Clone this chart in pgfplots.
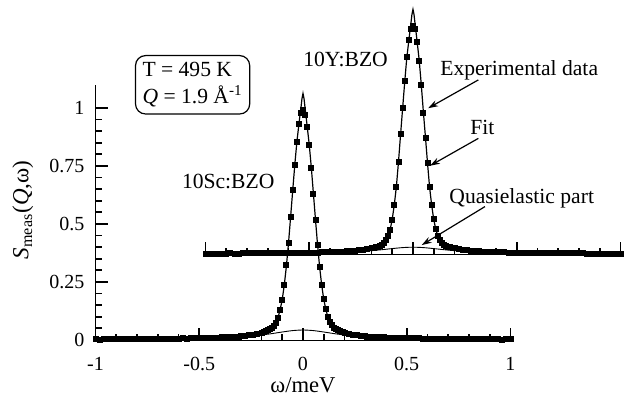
\documentclass[border=0pt]{standalone}
\usepackage{fontspec}
\setmainfont{Liberation Serif}
\usepackage{pgfplots}
\pgfplotsset{compat=1.18}
\usepackage{pgfplotstable}
\usetikzlibrary{arrows.meta}
\newcommand\annfont{\fontsize{10.8}{13.3}\selectfont}

% 10Sc:BZO measured data
\pgfplotstableread{
x y
-1.00 0.003
-0.98 0.002
-0.96 0.004
-0.94 0.003
-0.92 0.003
-0.90 0.004
-0.88 0.003
-0.86 0.004
-0.84 0.005
-0.82 0.004
-0.80 0.004
-0.78 0.005
-0.76 0.004
-0.74 0.005
-0.72 0.005
-0.70 0.005
-0.68 0.006
-0.66 0.005
-0.64 0.006
-0.62 0.006
-0.60 0.006
-0.58 0.007
-0.56 0.006
-0.54 0.007
-0.52 0.008
-0.50 0.008
-0.48 0.008
-0.46 0.009
-0.44 0.010
-0.42 0.010
-0.40 0.011
-0.38 0.012
-0.36 0.013
-0.34 0.014
-0.32 0.015
-0.30 0.017
-0.28 0.019
-0.26 0.021
-0.24 0.024
-0.22 0.028
-0.20 0.032
-0.19 0.035
-0.18 0.039
-0.17 0.042
-0.16 0.047
-0.15 0.054
-0.14 0.062
-0.13 0.075
-0.12 0.097
-0.11 0.129
-0.10 0.172
-0.09 0.236
-0.08 0.322
-0.07 0.418
-0.06 0.531
-0.05 0.645
-0.04 0.755
-0.03 0.855
-0.02 0.930
-0.01 0.978
0.00 0.990
0.01 0.970
0.02 0.918
0.03 0.840
0.04 0.742
0.05 0.630
0.06 0.519
0.07 0.411
0.08 0.314
0.09 0.237
0.10 0.178
0.11 0.133
0.12 0.099
0.13 0.078
0.14 0.063
0.15 0.053
0.16 0.046
0.17 0.042
0.18 0.038
0.19 0.035
0.20 0.032
0.22 0.027
0.24 0.024
0.26 0.021
0.28 0.019
0.30 0.017
0.32 0.015
0.34 0.014
0.36 0.013
0.38 0.012
0.40 0.011
0.42 0.010
0.44 0.010
0.46 0.009
0.48 0.008
0.50 0.008
0.52 0.007
0.54 0.007
0.56 0.007
0.58 0.006
0.60 0.006
0.62 0.006
0.64 0.005
0.66 0.006
0.68 0.005
0.70 0.005
0.72 0.004
0.74 0.005
0.76 0.004
0.78 0.004
0.80 0.004
0.82 0.004
0.84 0.003
0.86 0.004
0.88 0.003
0.90 0.003
0.92 0.003
0.94 0.003
0.96 0.002
0.98 0.003
1.00 0.003
}\scdata

\pgfplotstableread{
x y
-1.00 0.003
-0.90 0.0035
-0.80 0.004
-0.70 0.005
-0.60 0.006
-0.50 0.008
-0.45 0.0092
-0.40 0.011
-0.35 0.0135
-0.30 0.017
-0.26 0.021
-0.22 0.0275
-0.20 0.032
-0.18 0.038
-0.16 0.0465
-0.15 0.053
-0.14 0.062
-0.13 0.076
-0.12 0.098
-0.11 0.131
-0.10 0.175
-0.09 0.238
-0.08 0.319
-0.07 0.416
-0.06 0.527
-0.05 0.640
-0.04 0.750
-0.03 0.850
-0.02 0.928
-0.015 0.965
-0.01 1.000
-0.005 1.040
0.000 1.063
0.005 1.040
0.01 1.000
0.015 0.962
0.02 0.922
0.03 0.843
0.04 0.744
0.05 0.633
0.06 0.521
0.07 0.412
0.08 0.316
0.09 0.237
0.10 0.176
0.11 0.132
0.12 0.099
0.13 0.077
0.14 0.0625
0.15 0.053
0.16 0.0465
0.18 0.038
0.20 0.032
0.22 0.0275
0.26 0.021
0.30 0.017
0.35 0.0135
0.40 0.011
0.45 0.0092
0.50 0.008
0.60 0.006
0.70 0.005
0.80 0.004
0.90 0.0035
1.00 0.003
}\scfit

\pgfplotstableread{
x y
-1.0 0.0017
-0.9 0.0020
-0.8 0.0025
-0.7 0.0032
-0.6 0.0043
-0.5 0.0059
-0.4 0.0086
-0.35 0.0106
-0.3 0.0132
-0.25 0.0168
-0.2 0.0215
-0.15 0.0275
-0.1 0.0344
-0.05 0.0405
0 0.043
0.05 0.0405
0.1 0.0344
0.15 0.0275
0.2 0.0215
0.25 0.0168
0.3 0.0132
0.35 0.0106
0.4 0.0086
0.5 0.0059
0.6 0.0043
0.7 0.0032
0.8 0.0025
0.9 0.0020
1.0 0.0017
}\scquasi

% 10Y:BZO measured data (relative to its own baseline)
\pgfplotstableread{
x y
-1.00 0.0025
-0.98 0.003
-0.96 0.002
-0.94 0.003
-0.92 0.003
-0.90 0.003
-0.88 0.004
-0.86 0.003
-0.84 0.003
-0.82 0.004
-0.80 0.0035
-0.78 0.004
-0.76 0.004
-0.74 0.004
-0.72 0.005
-0.70 0.004
-0.68 0.005
-0.66 0.005
-0.64 0.005
-0.62 0.005
-0.60 0.005
-0.58 0.006
-0.56 0.005
-0.54 0.006
-0.52 0.006
-0.50 0.0065
-0.48 0.007
-0.46 0.007
-0.44 0.008
-0.42 0.008
-0.40 0.009
-0.38 0.0095
-0.36 0.010
-0.34 0.011
-0.32 0.012
-0.30 0.013
-0.28 0.015
-0.26 0.017
-0.24 0.019
-0.22 0.022
-0.20 0.026
-0.19 0.028
-0.18 0.030
-0.17 0.033
-0.16 0.037
-0.15 0.042
-0.14 0.049
-0.13 0.061
-0.12 0.077
-0.11 0.104
-0.10 0.148
-0.09 0.214
-0.08 0.292
-0.07 0.398
-0.06 0.518
-0.05 0.632
-0.04 0.745
-0.03 0.850
-0.02 0.922
-0.01 0.969
0.00 0.985
0.01 0.972
0.02 0.916
0.03 0.834
0.04 0.728
0.05 0.610
0.06 0.503
0.07 0.392
0.08 0.288
0.09 0.212
0.10 0.150
0.11 0.107
0.12 0.078
0.13 0.060
0.14 0.049
0.15 0.042
0.16 0.037
0.17 0.033
0.18 0.030
0.19 0.028
0.20 0.026
0.22 0.022
0.24 0.019
0.26 0.017
0.28 0.015
0.30 0.013
0.32 0.012
0.34 0.011
0.36 0.010
0.38 0.0095
0.40 0.009
0.42 0.008
0.44 0.008
0.46 0.007
0.48 0.007
0.50 0.0065
0.52 0.006
0.54 0.006
0.56 0.0055
0.58 0.005
0.60 0.005
0.62 0.005
0.64 0.0045
0.66 0.0045
0.68 0.004
0.70 0.004
0.72 0.004
0.74 0.004
0.76 0.0035
0.78 0.0035
0.80 0.0035
0.82 0.0035
0.84 0.003
0.86 0.003
0.88 0.003
0.90 0.003
0.92 0.003
0.94 0.0025
0.96 0.0025
0.98 0.0025
1.00 0.0025
}\ydata

\pgfplotstableread{
x y
-1.00 0.0025
-0.90 0.003
-0.80 0.0035
-0.70 0.004
-0.60 0.005
-0.50 0.0065
-0.40 0.009
-0.35 0.0105
-0.30 0.013
-0.26 0.017
-0.22 0.022
-0.20 0.026
-0.18 0.030
-0.16 0.037
-0.15 0.042
-0.14 0.049
-0.13 0.060
-0.12 0.078
-0.11 0.106
-0.10 0.150
-0.09 0.213
-0.08 0.291
-0.07 0.396
-0.06 0.513
-0.05 0.627
-0.04 0.740
-0.03 0.845
-0.02 0.921
-0.015 0.958
-0.01 0.995
-0.005 1.033
0.000 1.055
0.005 1.033
0.01 0.993
0.015 0.955
0.02 0.916
0.03 0.836
0.04 0.731
0.05 0.614
0.06 0.506
0.07 0.393
0.08 0.289
0.09 0.212
0.10 0.150
0.11 0.107
0.12 0.078
0.13 0.060
0.14 0.049
0.15 0.042
0.16 0.037
0.18 0.030
0.20 0.026
0.22 0.022
0.26 0.017
0.30 0.013
0.35 0.0105
0.40 0.009
0.50 0.0065
0.60 0.005
0.70 0.004
0.80 0.0035
0.90 0.003
1.00 0.0025
}\yfit

\pgfplotstableread{
x y
-1.0 0.0012
-0.9 0.0014
-0.8 0.0018
-0.7 0.0023
-0.6 0.0030
-0.5 0.0041
-0.4 0.0060
-0.35 0.0074
-0.3 0.0092
-0.25 0.0117
-0.2 0.0150
-0.15 0.0192
-0.1 0.0240
-0.05 0.0282
0 0.0300
0.05 0.0282
0.1 0.0240
0.15 0.0192
0.2 0.0150
0.25 0.0117
0.3 0.0092
0.35 0.0074
0.4 0.0060
0.5 0.0041
0.6 0.0030
0.7 0.0023
0.8 0.0018
0.9 0.0014
1.0 0.0012
}\yquasi

\begin{document}
\begin{tikzpicture}
\path[use as bounding box] (-47.75pt,-29.5pt) rectangle (268.75pt,170pt);
\begin{axis}[
    scale only axis, width=207.5pt, height=127.6pt,
    xmin=-1, xmax=1, ymin=0, ymax=1.1,
    clip=false,
    axis x line*=bottom, axis y line*=left,
    xtick={-1,-0.5,0,0.5,1}, minor x tick num=4,
    ytick={0,0.25,0.5,0.75,1}, minor y tick num=4,
    xtick align=inside, ytick align=inside,
    xtick pos=bottom, ytick pos=left,
    major tick length=6pt, minor tick length=3.2pt,
    every tick/.append style={black, line width=0.9pt},
    /pgf/number format/assume math mode=true,
    xticklabel style={font=\fontsize{10}{12}\selectfont, yshift=-5pt},
    yticklabel style={font=\fontsize{10}{12}\selectfont, xshift=-2pt},
]
\addplot[no marks, black, line width=0.45pt, smooth] table {\scquasi};
\addplot[no marks, black, line width=0.6pt] table {\scfit};
\addplot[only marks, mark=square*, mark size=1.25pt, black] table {\scdata};

\node[font=\fontsize{11.5}{13}\selectfont, rotate=90] at (rel axis cs:-0.175,0.51)
  {\textit{S}\textsubscript{meas}(\textit{Q},ω)};
\node[font=\fontsize{11.3}{13}\selectfont] at (rel axis cs:0.5,0) [yshift=-22.5pt] {ω/meV};

\node[draw, rounded corners=5pt, align=left, inner sep=3.5pt, line width=0.6pt, font=\annfont]
  at (axis cs:-0.532,1.10) {T = 495 K\\\textit{Q} = 1.9 Å\textsuperscript{-1}};

\node[font=\annfont, anchor=base west, inner sep=0pt] at (axis cs:-0.585,0.654) {10Sc:BZO};
\node[font=\annfont, anchor=base west, inner sep=0pt] at (axis cs:0.0,1.177) {10Y:BZO};
\node[font=\annfont, anchor=base west, inner sep=0pt] at (axis cs:0.660,1.142) {Experimental data};
\node[font=\annfont, anchor=base west, inner sep=0pt] at (axis cs:0.805,0.884) {Fit};
\node[font=\annfont, anchor=base west, inner sep=0pt] at (axis cs:0.704,0.590) {Quasielastic part};

\draw[line width=0.6pt, -{Stealth[length=5pt,width=3.2pt]}] (axis cs:0.845,1.121) -- (axis cs:0.603,0.999);
\draw[line width=0.6pt, -{Stealth[length=5pt,width=3.2pt]}] (axis cs:0.845,0.869) -- (axis cs:0.612,0.751);
\draw[line width=0.6pt, -{Stealth[length=5pt,width=3.2pt]}] (axis cs:0.877,0.575) -- (axis cs:0.572,0.409);
\end{axis}

\begin{axis}[
    scale only axis, width=207.5pt, height=127.6pt,
    at={(54.99pt,42.92pt)}, anchor=south west,
    xmin=-1, xmax=1, ymin=0, ymax=1.1,
    clip=false,
    axis x line*=bottom, axis y line=none,
    xtick={-1,-0.5,0,0.5,1}, minor x tick num=4,
    xticklabels={}, ytick=\empty,
    xtick align=inside, xtick pos=bottom,
    major tick length=6pt, minor tick length=3.2pt,
    every tick/.append style={black, line width=0.9pt},
]
\addplot[no marks, black, line width=0.45pt, smooth] table {\yquasi};
\addplot[no marks, black, line width=0.6pt] table {\yfit};
\addplot[only marks, mark=square*, mark size=1.25pt, black] table {\ydata};
\end{axis}
\end{tikzpicture}
\end{document}
